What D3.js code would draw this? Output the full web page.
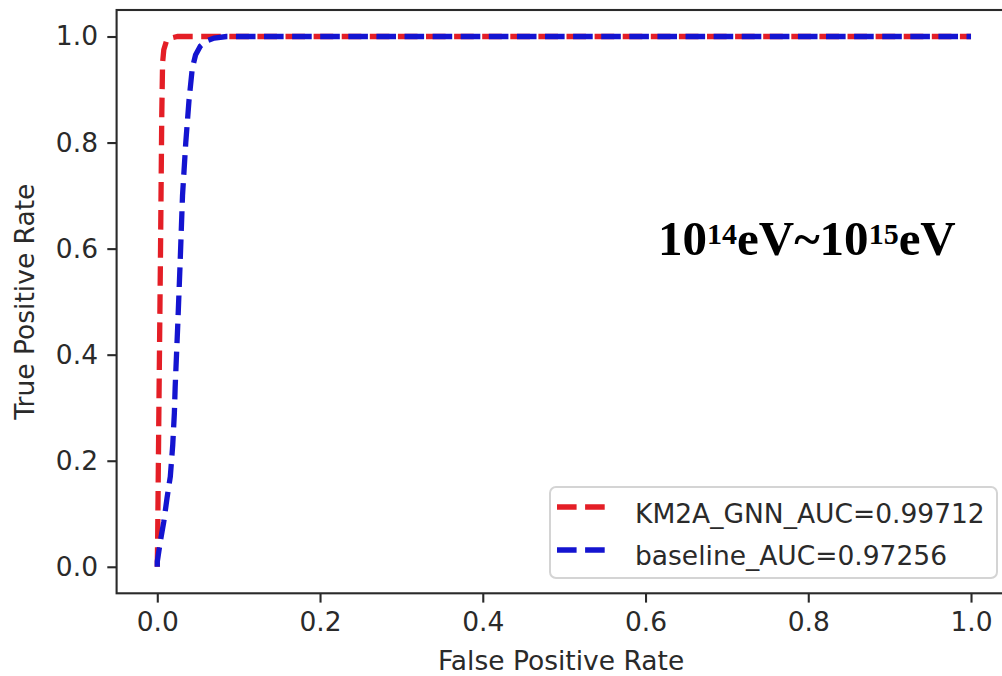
<!DOCTYPE html>
<html>
<head>
<meta charset="utf-8">
<script src="https://cdn.jsdelivr.net/npm/d3@7"></script>
<style>
  html, body { margin: 0; padding: 0; background: #fff; }
  svg { display: block; }
</style>
</head>
<body>
<svg id="chart" width="1002" height="676"></svg>
<script>
// ROC curve points (false positive rate, true positive rate)
const gnnFpr = [0, 0.0005, 0.002, 0.004, 0.0055, 0.0065, 0.008, 0.011, 0.016, 0.025, 1.0];
const gnnTpr = [0, 0.06, 0.30, 0.60, 0.85, 0.95, 0.975, 0.99, 0.997, 1.0, 1.0];

const baseFpr = [0, 0.0, 0.004, 0.008, 0.012, 0.016, 0.019, 0.021, 0.022, 0.025, 0.028, 0.031, 0.035, 0.039, 0.043, 0.047, 0.053, 0.061, 0.07, 0.085, 1.0];
const baseTpr = [0, 0.01, 0.05, 0.085, 0.13, 0.17, 0.23, 0.29, 0.34, 0.45, 0.57, 0.70, 0.80, 0.88, 0.94, 0.965, 0.982, 0.992, 0.997, 1.0, 1.0];

const seriesNames = ["KM2A_GNN_AUC=0.99712", "baseline_AUC=0.97256"];
const seriesColors = ["#e41e26", "#1414d0"];

const xTicks = [0.0, 0.2, 0.4, 0.6, 0.8, 1.0];
const yTicks = [0.0, 0.2, 0.4, 0.6, 0.8, 1.0];

const xTitle = "False Positive Rate";
const yTitle = "True Positive Rate";

(function draw() {
  const svg = d3.select("#chart");
  const textColor = "#2a2a2a";
  const font = "'DejaVu Sans', sans-serif";
  const fs = 26.5;

  const pLeft = 116.6, pRight = 1011.7, pTop = 10, pBottom = 593.3;
  const x = d3.scaleLinear().domain([-0.05, 1.05]).range([pLeft, pRight]);
  const y = d3.scaleLinear().domain([-0.05, 1.05]).range([pBottom, pTop]);

  // Curves
  const series = [
    { fpr: gnnFpr, tpr: gnnTpr },
    { fpr: baseFpr, tpr: baseTpr }
  ];
  const line = d3.line().x(d => x(d[0])).y(d => y(d[1]));
  const plot = svg.append("g");
  series.forEach((s, i) => {
    plot.append("path")
      .datum(d3.zip(s.fpr, s.tpr))
      .attr("d", line)
      .attr("fill", "none")
      .attr("stroke", seriesColors[i])
      .attr("stroke-width", 5.3)
      .attr("stroke-dasharray", "19.6,8.5");
  });

  // Axes
  const xAxis = d3.axisBottom(x).tickValues(xTicks).tickFormat(d3.format(".1f"))
    .tickSizeInner(9.3).tickSizeOuter(0).tickPadding(9.3);
  const yAxis = d3.axisLeft(y).tickValues(yTicks).tickFormat(d3.format(".1f"))
    .tickSizeInner(9.3).tickSizeOuter(0).tickPadding(9.3);

  const gx = svg.append("g").attr("transform", `translate(0,${pBottom})`).call(xAxis);
  const gy = svg.append("g").attr("transform", `translate(${pLeft},0)`).call(yAxis);
  [gx, gy].forEach(g => {
    g.select(".domain").remove();
    g.selectAll(".tick line").attr("stroke", textColor).attr("stroke-width", 2.1);
    g.selectAll(".tick text").attr("fill", textColor)
      .style("font-family", font).style("font-size", fs + "px");
  });

  // Spines
  svg.append("rect")
    .attr("x", pLeft).attr("y", pTop)
    .attr("width", pRight - pLeft).attr("height", pBottom - pTop)
    .attr("fill", "none").attr("stroke", textColor).attr("stroke-width", 2.1);

  // Axis titles
  svg.append("text")
    .attr("x", (pLeft + pRight) / 2 - 3).attr("y", 670)
    .attr("text-anchor", "middle")
    .attr("fill", textColor)
    .style("font-family", font).style("font-size", fs + "px")
    .text(xTitle);

  svg.append("text")
    .attr("transform", `translate(34,${(pTop + pBottom) / 2}) rotate(-90)`)
    .attr("text-anchor", "middle")
    .attr("fill", textColor)
    .style("font-family", font).style("font-size", fs + "px")
    .text(yTitle);

  // Legend
  const lg = svg.append("g");
  lg.append("rect")
    .attr("x", 550).attr("y", 487).attr("width", 447).attr("height", 91)
    .attr("rx", 6)
    .attr("fill", "#fff").attr("fill-opacity", 0.8)
    .attr("stroke", "#d4d4d4").attr("stroke-width", 2);
  const rowHandleY = [507, 550];
  const rowTextY = [523, 565];
  seriesNames.forEach((name, i) => {
    lg.append("line")
      .attr("x1", 557).attr("x2", 610)
      .attr("y1", rowHandleY[i]).attr("y2", rowHandleY[i])
      .attr("stroke", seriesColors[i]).attr("stroke-width", 5.3)
      .attr("stroke-dasharray", "19.6,8.5");
    lg.append("text")
      .attr("x", 635).attr("y", rowTextY[i])
      .attr("fill", textColor)
      .style("font-family", font).style("font-size", fs + "px")
      .text(name);
  });

  // Energy range annotation
  const ann = svg.append("text")
    .attr("x", 658).attr("y", 255)
    .attr("fill", "#000")
    .style("font-family", "'Liberation Serif', 'Times New Roman', serif")
    .style("font-weight", "bold")
    .style("font-size", "49px");
  const parts = [["10", false], ["14", true], ["eV~10", false], ["15", true], ["eV", false]];
  let raised = false;
  parts.forEach(([t, sup]) => {
    const span = ann.append("tspan").text(t);
    if (sup) {
      span.style("font-size", "30px");
      if (!raised) { span.attr("dy", -11); raised = true; }
    } else if (raised) {
      span.attr("dy", 11); raised = false;
    }
  });
})();
</script>
</body>
</html>
